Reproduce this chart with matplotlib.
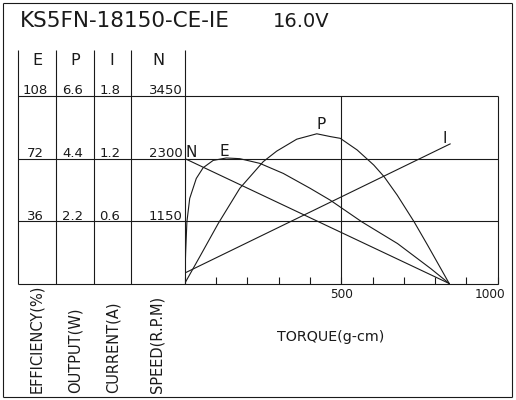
import matplotlib
matplotlib.use("Agg")
import matplotlib.pyplot as plt
from matplotlib.transforms import ScaledTranslation

# ---------------- data ----------------
title = "KS5FN-18150-CE-IE"
voltage = "16.0V"
col_names = ["E", "P", "I", "N"]
E_scale = [108, 72, 36]
P_scale = ["6.6", "4.4", "2.2"]
I_scale = ["1.8", "1.2", "0.6"]
N_scale = [3450, 2300, 1150]
axis_labels = ["EFFICIENCY(%)", "OUTPUT(W)", "CURRENT(A)", "SPEED(R.P.M)"]
x_label = "TORQUE(g-cm)"

N_torque = [0, 845]
N_vals = [2300, 0]

I_torque = [0, 848]
I_vals = [0.10, 1.34]

E_torque = [0, 3, 7, 16, 37, 59, 91, 133, 176, 240, 315, 401, 465, 566, 680, 786, 845]
E_vals = [0, 18, 35.5, 49, 60.5, 66.7, 70.9, 72.3, 71.9, 69.2, 63.4, 54.8, 48, 35.5, 23, 8.6, 0]

P_torque = [0, 48, 107, 176, 251, 294, 358, 422, 466, 497, 551, 604, 637, 679, 733, 776, 818, 845]
P_vals = [0, 0.94, 2.11, 3.35, 4.29, 4.66, 5.08, 5.27, 5.17, 5.11, 4.70, 4.17, 3.76, 3.11, 2.17, 1.35, 0.53, 0]

# ---------------- layout (pixels) ----------------
W, H = 516, 400
L, R, T, B = 184.7, 497.7, 96.0, 283.5
LC = "#1a1a1a"
LW = 0.8
FONT = "DejaVu Sans"

fig = plt.figure(figsize=(W / 100, H / 100), dpi=100)
fig.patch.set_facecolor("white")

ov = fig.add_axes([0, 0, 1, 1])
ov.set_xlim(0, W)
ov.set_ylim(H, 0)
ov.axis("off")

def hl(y, x0, x1):
    ov.plot([x0, x1], [y, y], color=LC, lw=LW, solid_capstyle="butt")

def vl(x, y0, y1):
    ov.plot([x, x], [y0, y1], color=LC, lw=LW, solid_capstyle="butt")

# outer frame
hl(2.5, 2.5, 511.5); hl(396.5, 2.5, 511.5)
vl(2.5, 2.5, 396.5); vl(511.5, 2.5, 396.5)

# table columns
col_x = [18, 56, 94, 131, L]
for x in col_x:
    vl(x, 50, B)
rows = [B - k * (B - T) / 3 for k in range(4)]
for y in rows:
    hl(y, 18, R)
vl(L + 0.5 * (R - L), T, B)
vl(R, T, B)

# title
ov.text(20, 27, title, fontsize=15.5, family=FONT, ha="left", va="baseline", color=LC)
ov.text(273, 27, voltage, fontsize=14, family=FONT, ha="left", va="baseline", color=LC)

# column headers
hx = [37, 75, 112, 158]
for x, s in zip(hx, col_names):
    ov.text(x, 65, s, fontsize=11.5, family=FONT, ha="center", va="baseline", color=LC)

# scale values
val_x = [35, 73, 110]
for k in range(3):
    y = rows[3 - k] - 1.5
    ov.text(val_x[0], y, str(E_scale[k]), fontsize=9.5, family=FONT, ha="center", va="baseline", color=LC)
    ov.text(val_x[1], y, P_scale[k], fontsize=9.5, family=FONT, ha="center", va="baseline", color=LC)
    ov.text(val_x[2], y, I_scale[k], fontsize=9.5, family=FONT, ha="center", va="baseline", color=LC)
    ov.text(182.5, y, str(N_scale[k]), fontsize=9.5, family=FONT, ha="right", va="baseline", color=LC)

# rotated axis labels
rx = [37, 75, 113, 157]
for x, s in zip(rx, axis_labels):
    ov.text(x, 393, s, fontsize=10.5, family=FONT, rotation=90, ha="center", va="bottom", color=LC)

ov.text(331, 337, x_label, fontsize=10.3, family=FONT, ha="center", va="center", color=LC)

# ---------------- plot axes ----------------
pos = [L / W, (H - B) / H, (R - L) / W, (B - T) / H]
ax = fig.add_axes(pos)
ax.patch.set_alpha(0)
for s in ax.spines.values():
    s.set_visible(False)
ax.set_xlim(0, 1000)
ax.set_ylim(0, 3450)
ax.set_yticks([])
ax.set_xticks(range(0, 1001, 100))
ax.set_xticklabels(["" if v not in (500, 1000) else str(v) for v in range(0, 1001, 100)],
                   fontsize=8.7, family=FONT, color=LC)
ax.tick_params(axis="x", direction="in", length=5, width=LW, color=LC, pad=3)
labels = ax.get_xticklabels()
labels[-1].set_transform(labels[-1].get_transform() + ScaledTranslation(-7.5 / 100, 0, fig.dpi_scale_trans))

axE = fig.add_axes(pos, sharex=ax)
axP = fig.add_axes(pos, sharex=ax)
axI = fig.add_axes(pos, sharex=ax)
for a, top in ((axE, 108), (axP, 6.6), (axI, 1.8)):
    a.patch.set_alpha(0)
    a.set_ylim(0, top)
    a.axis("off")

ax.plot(N_torque, N_vals, color=LC, lw=LW)
axE.plot(E_torque, E_vals, color=LC, lw=LW)
axP.plot(P_torque, P_vals, color=LC, lw=LW)
axI.plot(I_torque, I_vals, color=LC, lw=LW)

ax.text(3, 2330, "N", fontsize=11, family=FONT, ha="left", va="baseline", color=LC)
axE.text(126, 73.5, "E", fontsize=11, family=FONT, ha="center", va="baseline", color=LC)
axP.text(435, 5.43, "P", fontsize=11, family=FONT, ha="center", va="baseline", color=LC)
axI.text(832, 1.345, "I", fontsize=11, family=FONT, ha="center", va="baseline", color=LC)

fig.savefig("out.png", dpi=100, facecolor="white")
